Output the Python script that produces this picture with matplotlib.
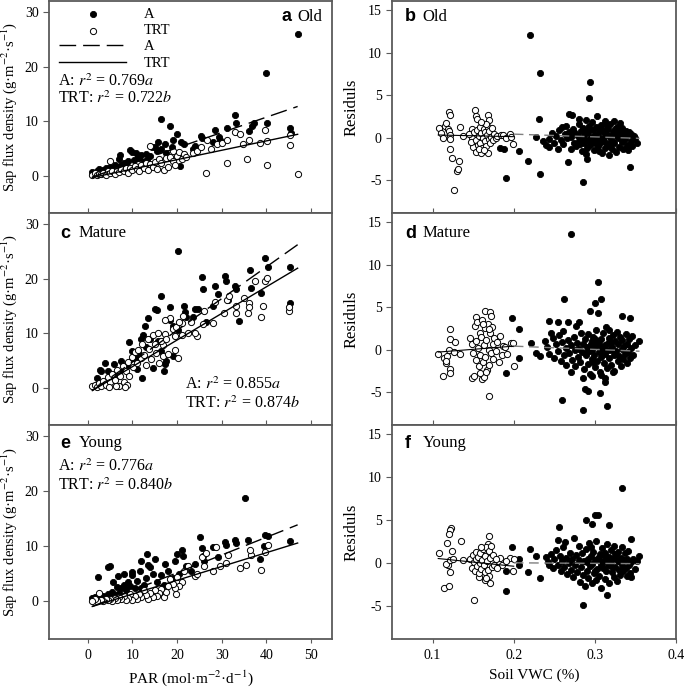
import matplotlib
matplotlib.use("Agg")
import matplotlib.pyplot as plt
import numpy as np

plt.rcParams['font.family'] = ['Liberation Serif', 'DejaVu Serif']
plt.rcParams['mathtext.fontset'] = 'stix'
plt.rcParams['axes.unicode_minus'] = False

# ---- data ----
# left column: sap flux density vs PAR, (x, y) pairs
a_A = [(1,0.7),(1.5,0.3),(2,0.9),(2.5,1.2),(3,0.8),(3.5,1.1),(4,1.4),(4.5,1.0),(5,1.6),(5.5,1.3),(6,1.9),
       (6.5,1.5),(7,3.0),(7.2,3.8),(7.5,2.0),(8,2.4),(8.5,2.3),(9,2.8),(9.4,4.7),(10,4.3),(10.3,2.9),(10.8,4.1),
       (11.2,3.5),(11.5,3.2),(12,3.8),(12.5,2.6),(13,4.0),(13.3,2.9),(14,3.7),(14.4,5.3),(15.1,5.3),(15.5,4.5),
       (15.8,6.2),(16.3,10.4),(16.5,5.0),(17.3,5.9),(17.5,4.2),(18.4,9.1),(18.8,5.2),(19.1,6.5),(19.9,7.6),
       (20.6,1.8),(20.9,6.2),(21.5,5.8),(23.6,5.0),(23.9,5.4),(25.3,7.3),(25.6,7.0),(28.1,6.2),(28.5,8.4),
       (29.4,7.1),(29.6,6.5),(31.1,8.7),(33.0,11.1),(33.2,9.6),(36.2,8.2),(36.8,9.2),(37.2,9.7),(39.9,18.8),
       (40.1,9.7),(45.3,8.8),(45.5,7.8),(47,25.9)]
a_TRT = [(1,0.2),(1.5,0.5),(2,0.1),(2.5,0.4),(3,0.3),(3.5,0.6),(4,0.2),(4.5,0.8),(4.9,2.7),(5,0.5),(5.5,0.9),
         (6,0.4),(6.5,1.0),(7,0.7),(7.5,1.2),(8,0.9),(8.5,1.4),(9,0.6),(9.5,1.5),(10,1.1),(10.5,1.8),(11,1.3),
         (11.5,0.8),(12,2.0),(12.5,1.5),(13,2.3),(13.5,1.0),(13.9,5.4),(14,2.1),(14.5,1.7),(15,2.6),(15.5,1.2),
         (16,3.0),(16.5,2.4),(17,1.0),(17.5,3.2),(18,1.6),(18.5,3.5),(19,2.7),(19.1,4.5),(19.5,2.0),(20,3.6),
         (20.5,4.4),(21,3.0),(21.5,4.0),(22,3.5),(23.6,4.2),(24.5,4.6),(25.3,5.3),(26.4,0.6),(26.6,6.5),
         (27.5,5.0),(28.9,5.9),(30,6.0),(31.1,6.5),(31.1,2.3),(33,8.0),(34.1,7.7),(34.8,5.9),(35.7,3.1),
         (36,6.6),(38.5,6.0),(39.6,8.4),(40.1,6.3),(40.1,2.0),(45.3,7.5),(45.3,5.6),(47.0,0.3)]

c_A = [(20.2,25.0),(39.7,23.8),(40.3,22.1),(45.3,22.1),(36.3,21.6),(36.5,18.3),(25.6,20.2),(30.7,20.4),
       (33.0,18.6),(33.1,18.0),(38.7,17.4),(25.9,18.0),(28.5,18.6),(29.2,17.2),(28.1,14.9),(21.6,15.0),
       (18.4,14.8),(16.4,16.9),(15.0,14.5),(24.0,14.5),(24.6,14.5),(23.6,12.9),(21.7,13.8),(22.0,12.9),
       (19.0,11.3),(19.6,10.9),(20.3,10.6),(33.9,12.2),(45.3,15.5),(12.8,11.3),(12.0,9.0),(12.4,9.6),
       (16.5,6.7),(14.6,3.7),(17.1,3.0),(17.2,4.3),(10.9,5.2),(10.2,5.4),(9.8,6.7),(3.8,4.6),(2.7,3.2),
       (4.5,3.1),(2.0,1.8),(5.8,4.3),(13.5,12.8),(15.4,14.2),(15.8,8.5),(17.6,4.9),(8.2,3.5),(6.9,2.9),
       (3.0,3.1),(7.5,5.0),(8.8,4.1),(11.5,6.2),(13.0,7.5),(14.0,8.9),(9.3,8.4),(6.0,2.0),(5.0,1.2),
       (11.0,3.5),(12.2,1.8),(19.0,5.9),(18.3,12.5),(26.5,12.1),(31.5,16.1),(31.0,19.5)]
c_TRT = [(45.1,14.0),(45.1,14.8),(38.9,12.9),(39.3,15.0),(39.7,19.5),(40.1,20.1),(37.4,19.5),(35.9,13.7),
         (36.1,15.5),(36.1,14.8),(33.3,13.7),(33.1,15.0),(31.1,16.1),(30.4,13.7),(28.5,15.8),(28.1,11.9),
         (25.9,11.6),(24.4,9.4),(24.0,10.0),(21.0,11.9),(21.4,13.1),(18.5,12.8),(19.1,10.7),(19.5,9.4),
         (17.2,9.8),(16.9,7.9),(19.5,7.0),(35.0,16.5),(31.7,16.8),(26.0,14.0),(23.0,12.0),
         (1.0,0.3),(1.5,0.5),(2.0,0.2),(2.5,0.9),(3.0,0.4),(3.5,1.3),(4.0,0.6),(4.5,2.0),(5.0,1.0),(5.5,2.6),
         (6.0,1.5),(6.5,3.2),(7.0,0.3),(7.3,2.2),(7.8,4.0),(8.0,1.0),(8.5,3.0),(9.0,4.8),(9.3,2.1),(9.8,5.6),
         (10.2,3.8),(10.5,6.5),(11.0,4.6),(11.3,7.0),(11.8,5.5),(12.2,8.0),(12.6,6.0),(13.0,4.2),(13.4,9.0),
         (13.8,7.2),(14.2,5.2),(14.6,9.6),(15.0,8.0),(15.3,6.3),(15.7,10.1),(16.0,4.5),(16.4,8.5),(16.8,5.8),
         (17.2,12.5),(17.6,9.0),(18.0,6.2),(19.8,11.2),(20.5,12.0),(21.0,9.6),(22.5,10.0),(20.3,5.5),
         (4.8,0.2),(6.2,0.4),(8.8,0.6),(8.3,0.2)]

e_A = [(35.2,18.8),(25.1,11.7),(35.9,11.1),(39.7,12.0),(40.3,11.8),(45.3,11.0),(33.0,11.1),(33.1,10.6),
       (30.7,10.8),(30.9,10.2),(28.1,9.9),(25.6,9.7),(25.7,8.3),(24.0,6.8),(21.0,9.3),(21.4,8.3),(20.0,8.6),
       (19.6,7.3),(17.3,6.8),(15.0,7.7),(13.9,6.2),(13.4,6.6),(12.0,7.4),(13.2,8.7),(11.7,5.6),(9.8,5.3),
       (6.8,4.7),(4.9,6.5),(4.6,6.2),(5.6,3.5),(2.3,4.5),(38.6,7.7),(29.2,8.0),(39.5,10.1),(22.0,6.5),
       (20.5,5.0),(18.0,5.5),(16.5,4.8),(15.5,3.5),(14.5,5.0),(13.0,4.2),(12.5,3.0),(11.0,3.8),(10.5,2.5),
       (9.5,2.8),(9.0,3.5),(8.5,2.0),(8.0,3.0),(7.5,2.4),(7.0,1.6),(6.5,2.6),(6.0,1.2),(5.5,1.8),(5.0,0.9),
       (4.5,1.4),(4.0,0.7),(3.5,1.0),(3.0,0.6),(2.5,0.9),(2.0,0.5),(1.5,0.8),(1.0,0.7),(26.0,7.4),(23.0,5.5),
       (17.0,3.0),(19.0,4.2),(10.0,4.8),(12.0,2.5),(8.0,5.0)]
e_TRT = [(38.7,5.8),(34.1,6.0),(35.5,6.7),(39.7,9.0),(40.3,10.2),(28.8,9.8),(28.0,5.6),(23.9,4.7),(36.5,8.5),
         (36.4,9.4),(31.0,7.0),(31.3,8.5),(26.0,6.5),(25.5,8.0),(29.5,6.5),(21.5,5.5),(21.0,3.5),(20.5,2.8),
         (19.8,1.4),(19.5,2.5),(19.0,3.2),(18.0,2.8),(17.0,0.8),(17.5,1.8),(16.5,2.2),(16.0,1.5),(15.5,1.0),
         (15.0,2.0),(14.5,0.8),(14.0,1.5),(13.5,0.4),(13.0,1.2),(12.5,2.0),(12.0,0.8),(11.5,1.4),(11.0,0.5),
         (10.5,1.0),(10.0,0.3),(9.5,1.4),(9.0,0.6),(8.5,0.2),(8.0,1.0),(7.5,0.4),(7.0,0.8),(6.5,0.2),(6.0,0.6),
         (5.5,0.1),(5.0,0.4),(4.5,0.2),(4.0,0.5),(3.5,0.1),(3.0,0.3),(2.5,1.6),(2.0,0.1),(1.5,0.4),(1.0,0.0),
         (22.5,6.5),(24.5,5.0),(20.0,4.5),(18.5,4.0),(26.5,8.8)]

# regression lines (ends at PAR = 1 and 47)
fit_par = [1, 47]
a_fit_A, a_fit_TRT = [-0.2, 12.7], [-0.3, 7.6]
c_fit_A, c_fit_TRT = [-0.5, 26.2], [-0.5, 21.9]
e_fit_A, e_fit_TRT = [-0.9, 13.9], [-0.9, 10.6]

r2_text = {'a': ('0.769', '0.722'), 'c': ('0.855', '0.874'), 'e': ('0.776', '0.840')}

# right column: residuals vs soil VWC
b_A = [(0.220,12.1),(0.232,7.6),(0.294,6.6),(0.293,4.7),(0.231,2.2),(0.218,-2.8),(0.232,-4.3),(0.190,-4.8),
       (0.207,-1.6),(0.188,-1.4),(0.183,-1.2),(0.285,-5.3),(0.343,-3.5),(0.267,-2.9),(0.289,-2.0),(0.290,-2.5),
       (0.272,2.6),(0.268,2.8),(0.281,2.2),(0.228,0.1),(0.236,-0.4),(0.240,-0.9),(0.244,-1.1),(0.243,-0.2),
       (0.247,0.5),(0.250,-0.6),(0.252,0.2),(0.255,-1.4),(0.256,0.9),(0.258,-0.3),(0.260,1.2),(0.261,-0.8),
       (0.263,0.4),(0.264,1.4),(0.266,-0.1),(0.268,0.7),(0.270,-1.3),(0.271,0.1),(0.273,1.0),(0.274,-0.6),
       (0.276,0.5),(0.277,-1.0),(0.279,0.2),(0.280,1.6),(0.281,-0.4),(0.283,0.8),(0.284,-1.6),(0.285,0.0),
       (0.286,1.1),(0.287,-0.7),(0.288,0.4),(0.289,2.1),(0.290,-1.2),(0.291,0.6),(0.292,-0.3),(0.293,1.4),
       (0.294,-0.9),(0.295,0.1),(0.296,1.8),(0.297,-0.5),(0.298,0.9),(0.299,-1.5),(0.300,0.3),(0.301,1.2),
       (0.302,-0.2),(0.303,2.5),(0.304,-1.0),(0.305,0.6),(0.306,-0.6),(0.307,1.5),(0.308,0.0),(0.309,-1.8),
       (0.310,0.8),(0.311,-0.4),(0.312,1.9),(0.313,-1.2),(0.314,0.4),(0.315,-0.8),(0.316,1.0),(0.317,-2.1),
       (0.318,0.2),(0.319,1.6),(0.320,-0.3),(0.321,-1.4),(0.322,0.7),(0.323,2.0),(0.324,-0.7),(0.325,0.3),
       (0.326,-1.7),(0.327,1.3),(0.328,-0.1),(0.329,0.9),(0.330,-1.1),(0.331,1.7),(0.332,0.1),(0.333,-0.5),
       (0.334,1.1),(0.335,-1.3),(0.336,0.5),(0.337,-0.2),(0.338,0.8),(0.339,-0.9),(0.340,0.3),(0.341,-1.5),
       (0.342,0.6),(0.344,-0.4),(0.345,0.4),(0.346,-1.0),(0.348,0.2),(0.350,0.0),(0.352,-0.6),(0.312,0.5),
       (0.305,-1.6),(0.298,-0.1),(0.318,-1.0),(0.325,1.0),(0.292,1.0),(0.282,-0.8),(0.300,-0.6),(0.315,1.4),
       (0.322,-0.5),(0.308,1.0),(0.330,0.4),(0.310,-0.2)]
b_TRT = [(0.108,1.1),(0.111,0.5),(0.113,0.0),(0.115,1.4),(0.117,1.7),(0.119,1.0),(0.120,3.0),(0.122,2.7),
         (0.120,0.8),(0.121,0.3),(0.122,-0.2),(0.134,1.3),(0.122,-1.4),(0.124,-2.4),(0.132,-2.8),(0.130,-3.9),
         (0.131,-3.7),(0.126,-6.2),(0.138,0.2),(0.152,3.3),(0.154,2.5),(0.155,2.2),(0.149,1.0),(0.149,0.0),
         (0.150,-1.1),(0.154,-1.7),(0.160,-1.8),(0.168,2.6),(0.170,2.1),(0.168,-1.8),(0.145,0.4),(0.147,-0.5),
         (0.151,0.6),(0.153,-0.3),(0.155,0.9),(0.156,-0.9),(0.157,0.2),(0.158,1.2),(0.159,-0.6),(0.160,0.5),
         (0.161,-1.2),(0.162,0.0),(0.163,1.0),(0.164,-0.4),(0.165,0.7),(0.166,-1.0),(0.167,0.3),(0.168,1.3),
         (0.169,-0.2),(0.170,0.8),(0.171,-0.7),(0.172,0.1),(0.173,1.1),(0.174,-0.3),(0.176,0.4),(0.178,-0.1),
         (0.180,0.2),(0.184,0.3),(0.187,0.3),(0.190,-0.1),(0.195,0.4),(0.197,0.1),(0.199,-0.8),(0.157,-1.4),
         (0.163,-1.5),(0.166,1.6),(0.160,1.8)]

d_A = [(0.270,13.6),(0.304,8.0),(0.262,6.0),(0.307,5.9),(0.300,5.5),(0.304,4.3),(0.294,4.6),(0.255,3.2),
       (0.243,3.4),(0.267,3.2),(0.277,2.8),(0.280,3.3),(0.334,4.0),(0.343,3.7),(0.198,3.7),(0.207,2.4),
       (0.190,-2.8),(0.207,-1.0),(0.260,-6.0),(0.285,-7.1),(0.315,-6.7),(0.288,-4.7),(0.291,-4.9),(0.306,-5.1),
       (0.312,-3.8),(0.313,-3.4),(0.286,-3.4),(0.297,-3.1),(0.354,1.0),(0.221,0.8),(0.227,-0.4),(0.232,-0.8),
       (0.238,1.0),(0.241,0.3),(0.244,-0.5),(0.246,2.0),(0.248,1.4),(0.250,-1.0),(0.252,0.6),(0.254,-0.2),
       (0.256,1.7),(0.258,-1.3),(0.259,0.9),(0.261,2.2),(0.262,-0.6),(0.264,0.2),(0.265,-1.8),(0.267,1.1),
       (0.268,-0.4),(0.270,-2.6),(0.271,0.5),(0.272,-1.2),(0.274,1.5),(0.275,-0.1),(0.276,-2.0),(0.278,0.8),
       (0.279,-0.9),(0.281,0.1),(0.282,-1.5),(0.283,2.0),(0.284,-0.3),(0.286,0.6),(0.287,-2.3),(0.288,1.2),
       (0.289,-0.7),(0.290,0.3),(0.291,-1.7),(0.292,1.8),(0.293,-0.2),(0.294,-2.9),(0.295,0.7),(0.296,-1.1),
       (0.297,0.0),(0.298,1.5),(0.299,-0.6),(0.300,-2.1),(0.301,0.4),(0.302,2.3),(0.303,-1.4),(0.304,0.9),
       (0.305,-0.3),(0.306,-2.6),(0.307,1.3),(0.308,-0.9),(0.309,0.2),(0.310,1.9),(0.311,-1.6),(0.312,0.5),
       (0.313,-0.5),(0.314,2.6),(0.315,-2.2),(0.316,0.8),(0.317,-1.0),(0.318,1.4),(0.319,-0.1),(0.320,-1.8),
       (0.321,0.3),(0.322,1.7),(0.323,-0.7),(0.324,-2.5),(0.325,1.0),(0.326,-0.2),(0.327,2.1),(0.328,-1.3),
       (0.329,0.6),(0.330,-0.8),(0.331,1.5),(0.332,-2.0),(0.333,0.1),(0.334,1.1),(0.335,-1.1),(0.336,0.4),
       (0.337,-0.5),(0.338,1.8),(0.339,-1.6),(0.340,0.7),(0.341,-0.3),(0.342,1.2),(0.343,-1.0),(0.345,0.2),
       (0.346,1.6),(0.347,-0.6),(0.349,0.5),(0.305,0.6),(0.310,-0.4),(0.296,1.0),(0.320,0.9),(0.315,0.0),
       (0.300,1.2),(0.325,-0.4),(0.290,-0.3),(0.318,2.3),(0.308,-3.0),(0.322,-2.6),(0.298,-1.5)]
d_TRT = [(0.107,-0.5),(0.113,-3.1),(0.122,2.4),(0.121,1.2),(0.122,-2.3),(0.122,-2.8),(0.117,-1.6),(0.134,-0.5),
         (0.114,-1.0),(0.118,-0.8),(0.120,0.0),(0.126,-0.3),(0.128,0.9),(0.116,-1.3),(0.153,3.8),(0.165,4.5),
         (0.171,4.4),(0.172,3.9),(0.148,-3.4),(0.151,-3.1),(0.161,-3.5),(0.163,-3.2),(0.170,-5.5),(0.200,-2.0),
         (0.197,0.8),(0.199,0.8),(0.187,0.4),(0.183,1.6),(0.146,1.4),(0.148,0.6),(0.150,-0.4),(0.152,2.8),
         (0.153,1.0),(0.154,-1.2),(0.155,3.2),(0.156,0.2),(0.157,-2.0),(0.158,2.0),(0.159,-0.7),(0.160,1.5),
         (0.161,3.5),(0.162,-1.5),(0.163,0.5),(0.164,2.5),(0.165,-0.9),(0.166,1.1),(0.167,-2.4),(0.168,3.0),
         (0.169,0.0),(0.170,-1.8),(0.171,1.9),(0.172,-0.4),(0.173,2.7),(0.174,0.7),(0.175,-1.1),(0.176,1.4),
         (0.178,-0.2),(0.180,0.9),(0.182,-1.5),(0.185,-0.6),(0.189,0.3),(0.192,-0.5),(0.158,-2.8),(0.166,-2.7),
         (0.162,3.0),(0.170,2.4)]

f_A = [(0.334,8.7),(0.300,5.6),(0.304,5.6),(0.296,4.5),(0.317,4.4),(0.289,5.0),(0.256,4.2),(0.344,2.8),
       (0.198,1.8),(0.207,0.5),(0.190,-1.0),(0.190,-3.3),(0.218,-1.1),(0.233,-1.8),(0.220,1.6),(0.228,0.8),
       (0.285,-4.9),(0.315,-3.8),(0.207,-0.3),(0.240,0.7),(0.242,0.1),(0.244,-0.3),(0.246,1.0),(0.248,-0.6),
       (0.250,0.4),(0.252,1.5),(0.254,-0.2),(0.255,2.7),(0.257,0.8),(0.258,-0.9),(0.260,0.2),(0.261,1.9),
       (0.262,-0.5),(0.263,2.4),(0.265,0.6),(0.266,-1.3),(0.268,0.0),(0.269,1.2),(0.270,-0.8),(0.272,0.4),
       (0.273,-1.7),(0.274,2.9),(0.276,-0.3),(0.277,0.9),(0.278,-1.1),(0.280,0.3),(0.281,2.0),(0.282,-2.2),
       (0.283,-0.5),(0.284,1.1),(0.286,-1.4),(0.287,0.2),(0.288,-2.7),(0.289,1.6),(0.290,-0.9),(0.291,0.5),
       (0.292,-1.8),(0.293,2.3),(0.294,-0.4),(0.295,0.8),(0.296,-2.4),(0.297,-0.1),(0.298,1.3),(0.299,-1.2),
       (0.300,0.3),(0.301,-2.0),(0.302,2.5),(0.303,-0.7),(0.304,0.6),(0.305,-1.5),(0.306,1.0),(0.307,-0.2),
       (0.308,-2.9),(0.309,1.7),(0.310,-0.6),(0.311,0.2),(0.312,-1.9),(0.313,1.2),(0.314,-0.9),(0.315,2.2),
       (0.316,-0.3),(0.317,0.7),(0.318,-2.3),(0.319,0.0),(0.320,1.5),(0.321,-1.1),(0.322,0.4),(0.323,-1.6),
       (0.324,2.0),(0.325,-0.5),(0.326,0.9),(0.327,-2.1),(0.328,0.2),(0.329,1.3),(0.330,-0.8),(0.331,-1.4),
       (0.332,0.6),(0.333,1.8),(0.334,-0.2),(0.335,-1.0),(0.336,0.3),(0.337,1.1),(0.338,-0.6),(0.339,-1.5),
       (0.340,0.5),(0.341,1.4),(0.342,-0.3),(0.343,-1.2),(0.344,0.1),(0.345,-1.6),(0.347,0.4),(0.349,-0.7),
       (0.352,0.2),(0.355,0.8),(0.310,0.9),(0.300,-1.0),(0.320,-0.4),(0.305,0.3),(0.295,1.9),(0.315,0.4),
       (0.325,1.0),(0.290,0.1),(0.330,0.2)]
f_TRT = [(0.108,1.1),(0.114,-2.9),(0.120,-2.7),(0.123,4.1),(0.122,3.8),(0.120,3.4),(0.118,2.3),(0.124,1.4),
         (0.122,-1.1),(0.119,-0.2),(0.116,-0.1),(0.121,0.3),(0.125,0.5),(0.135,2.5),(0.138,0.3),(0.151,-4.3),
         (0.169,3.1),(0.168,2.2),(0.171,-2.4),(0.165,-2.0),(0.163,-1.4),(0.157,-1.6),(0.195,0.6),(0.200,0.4),
         (0.199,-0.9),(0.183,0.6),(0.186,-0.2),(0.190,0.2),(0.146,0.5),(0.148,-0.6),(0.150,0.9),(0.151,0.1),
         (0.152,-1.0),(0.153,0.4),(0.154,1.3),(0.155,-0.4),(0.156,0.7),(0.157,-1.2),(0.158,0.0),(0.159,1.1),
         (0.160,-0.7),(0.161,0.3),(0.162,1.6),(0.163,-0.3),(0.164,0.8),(0.165,-1.1),(0.166,1.9),(0.167,0.2),
         (0.168,-0.8),(0.169,1.4),(0.170,-1.5),(0.171,0.6),(0.172,2.0),(0.173,-0.5),(0.174,0.9),(0.176,-0.2),
         (0.178,0.4),(0.180,-0.6),(0.166,-1.8),(0.160,1.8)]

# residual trend lines: TRT solid over its VWC range, A dashed over its range
res_TRT_x, res_A_x = [0.107, 0.200], [0.200, 0.355]
b_res_TRT, b_res_A = [0.3, 0.1], [0.4, -0.1]
d_res_TRT, d_res_A = [-0.3, 0.4], [0.4, -0.2]
f_res_TRT, f_res_A = [0.5, -0.4], [0.0, -0.1]

ages = ['Old', 'Mature', 'Young']

# ---- figure ----
fig = plt.figure(figsize=(6.85, 6.91), dpi=100)
W, H = 685, 691
rows = [(1, 213), (213, 425), (425, 639)]
spine_col = '#5a5a5a'
TICK_FS = 10
LAB_FS = 11
R2_FS = 11.5


def make_ax(x0, x1, y0, y1):
    ax = fig.add_axes([x0 / W, 1 - y1 / H, (x1 - x0) / W, (y1 - y0) / H])
    for s in ax.spines.values():
        s.set_color(spine_col)
        s.set_linewidth(1.3)
    return ax


def dots(ax, pts, filled):
    x = [p[0] for p in pts]
    y = [p[1] for p in pts]
    if filled:
        return ax.scatter(x, y, s=20, c='black', edgecolors='black', linewidths=0.6, zorder=3)
    return ax.scatter(x, y, s=20, facecolors='white', edgecolors='black', linewidths=0.7, zorder=4)


left_sets = [(a_A, a_TRT, a_fit_A, a_fit_TRT, 'a'),
             (c_A, c_TRT, c_fit_A, c_fit_TRT, 'c'),
             (e_A, e_TRT, e_fit_A, e_fit_TRT, 'e')]
right_sets = [(b_A, b_TRT, b_res_A, b_res_TRT, 'b'),
              (d_A, d_TRT, d_res_A, d_res_TRT, 'd'),
              (f_A, f_TRT, f_res_A, f_res_TRT, 'f')]

ylab_sap = 'Sap flux density (g\u00b7m$^{-2}$\u00b7s$^{-1}$)'

for i, ((A, T, fA, fT, letter), (y0, y1)) in enumerate(zip(left_sets, rows)):
    ax = make_ax(49, 332, y0, y1)
    hA = dots(ax, A, True)
    hT = dots(ax, T, False)
    lA, = ax.plot(fit_par, fA, color='black', lw=1.0, dashes=(12, 5), zorder=5)
    lT, = ax.plot(fit_par, fT, color='black', lw=1.0, zorder=5)
    ax.set_xlim(-8.7, 54.7)
    ax.set_ylim(-6.8, 32)
    ax.set_xticks([0, 10, 20, 30, 40, 50])
    ax.set_yticks([0, 10, 20, 30])
    ax.tick_params(axis='y', direction='out', length=4, width=0.8, labelsize=TICK_FS, color=spine_col)
    if i < 2:
        ax.tick_params(axis='x', direction='in', length=3.5, width=0.8, labelbottom=False, color=spine_col)
    else:
        ax.tick_params(axis='x', direction='out', length=3, width=0.8, labelsize=TICK_FS, pad=4,
                       color=spine_col)
        ax.set_xlabel('PAR (mol\u00b7m$^{-2}$\u00b7d$^{-1}$)', fontsize=LAB_FS, labelpad=5)
    ax.set_ylabel(ylab_sap, fontsize=10.5, labelpad=4)

    rA, rT = r2_text[letter]
    t1 = 'A: $r^2$ = ' + rA + '$a$'
    t2 = 'TRT: $r^2$ = ' + rT + '$b$'
    if letter == 'a':
        ax.text(0.032, 0.62, t1, transform=ax.transAxes, fontsize=R2_FS, va='center')
        ax.text(0.032, 0.54, t2, transform=ax.transAxes, fontsize=R2_FS, va='center')
        ax.text(0.823, 0.925, 'a', transform=ax.transAxes, fontsize=13, va='center',
                family='Liberation Sans', weight='bold')
        ax.text(0.877, 0.925, ages[i], transform=ax.transAxes, fontsize=12, va='center')
        ax.legend([hA, hT, lA, lT], ['A', 'TRT', 'A', 'TRT'], loc='upper left',
                  bbox_to_anchor=(0.0, 1.015), frameon=False, fontsize=10.5,
                  handlelength=4.6, handletextpad=1.2, labelspacing=0.2, borderaxespad=0.3,
                  scatterpoints=1)
    else:
        if letter == 'c':
            ax.text(0.48, 0.19, t1, transform=ax.transAxes, fontsize=R2_FS, va='center')
            ax.text(0.48, 0.10, t2, transform=ax.transAxes, fontsize=R2_FS, va='center')
            ly = 0.905
        else:
            ax.text(0.032, 0.805, t1, transform=ax.transAxes, fontsize=R2_FS, va='center')
            ax.text(0.032, 0.716, t2, transform=ax.transAxes, fontsize=R2_FS, va='center')
            ly = 0.915
        ax.text(0.04, ly, letter, transform=ax.transAxes, fontsize=13, va='center',
                family='Liberation Sans', weight='bold')
        ax.text(0.105, ly, ages[i], transform=ax.transAxes, fontsize=12, va='center')

for i, ((A, T, rA, rT, letter), (y0, y1)) in enumerate(zip(right_sets, rows)):
    ax = make_ax(392, 676, y0, y1)
    dots(ax, A, True)
    dots(ax, T, False)
    ax.plot(res_TRT_x, rT, color='black', lw=0.8, zorder=5)
    ax.plot(res_A_x, rA, color='#808080', lw=1.0, dashes=(7, 4), zorder=5)
    ax.set_xlim(0.05, 0.4)
    ax.set_ylim(-8.9, 16.1)
    ax.set_xticks([0.1, 0.2, 0.3, 0.4])
    ax.set_yticks([-5, 0, 5, 10, 15])
    ax.tick_params(axis='y', direction='out', length=4, width=0.8, labelsize=TICK_FS, color=spine_col)
    if i < 2:
        ax.tick_params(axis='x', direction='in', length=3.5, width=0.8, labelbottom=False, color=spine_col)
    else:
        ax.tick_params(axis='x', direction='out', length=3, width=0.8, labelsize=TICK_FS, pad=4,
                       color=spine_col)
        ax.set_xticklabels(['0.1', '0.2', '0.3', '0.4'])
        ax.set_xlabel('Soil VWC (%)', fontsize=LAB_FS, labelpad=5)
    ax.set_ylabel('Residuls', fontsize=12, labelpad=6)
    ly = 0.925 if i == 0 else (0.905 if i == 1 else 0.915)
    ax.text(0.045, ly, letter, transform=ax.transAxes, fontsize=13, va='center',
            family='Liberation Sans', weight='bold')
    ax.text(0.108, ly, ages[i], transform=ax.transAxes, fontsize=12, va='center')

fig.savefig('out.png', dpi=100)
